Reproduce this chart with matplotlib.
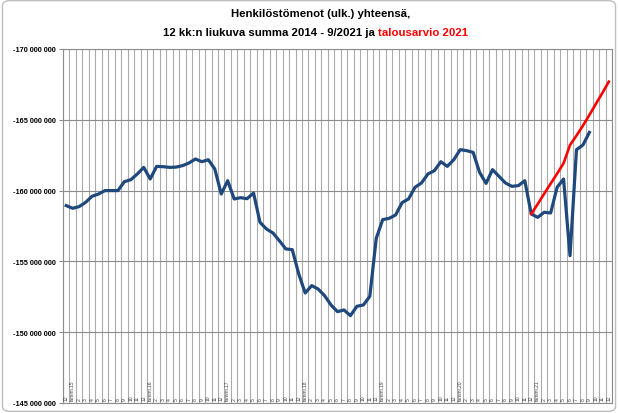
import matplotlib
matplotlib.use("Agg")
import matplotlib.pyplot as plt
from matplotlib.patches import FancyBboxPatch
from matplotlib.ticker import FuncFormatter, FixedLocator

plt.rcParams['font.family'] = ['Liberation Sans', 'DejaVu Sans']

# Category labels: Dec 2014 ... Dec 2021
years = ["15", "16", "17", "18", "19", "20", "21"]
months_rest = ["2", "3", "4", "5", "6", "7", "8", "9", "10", "11", "12"]
categories = ["12"] + [lab for y in years for lab in (["tammi." + y] + months_rest)]

# 12-month rolling sum of personnel expenses (million EUR), Dec 2014 - Sep 2021
actual = [
    -158.94, -158.75, -158.87, -159.17, -159.60, -159.76, -160.00, -160.00, -160.00, -160.63,
    -160.77, -161.17, -161.64, -160.82, -161.71, -161.69, -161.64, -161.66, -161.76, -161.95,
    -162.23, -162.04, -162.18, -161.53, -159.76, -160.70, -159.41, -159.50, -159.43, -159.83,
    -157.76, -157.29, -157.01, -156.46, -155.88, -155.83, -154.11, -152.77, -153.29, -153.05,
    -152.58, -151.92, -151.45, -151.57, -151.17, -151.83, -151.92, -152.53, -156.63, -157.95,
    -158.04, -158.28, -159.15, -159.41, -160.23, -160.54, -161.17, -161.41, -162.04, -161.71,
    -162.18, -162.89, -162.82, -162.70, -161.29, -160.51, -161.48, -161.01, -160.54, -160.30,
    -160.35, -160.70, -158.35, -158.11, -158.47, -158.42, -160.23, -160.82, -155.40, -162.89,
    -163.22, -164.11,
]
# Budget 2021 path (million EUR), Dec 2020 - Dec 2021
budget_start = 72
budget = [-158.35, -159.05, -159.78, -160.49, -161.20, -161.93, -163.22, -163.88,
          -164.59, -165.34, -166.12, -166.89, -167.69]

y_ticks = [-170, -165, -160, -155, -150, -145]

fig = plt.figure(figsize=(6.18, 4.14), dpi=100)
fig.patch.set_facecolor('white')
fig.patches.append(FancyBboxPatch((0.004, 0.004), 0.992, 0.992,
                                  boxstyle="round,pad=0,rounding_size=0.012",
                                  transform=fig.transFigure, fill=False,
                                  ec='#BFBFBF', lw=1.0))

ax = fig.add_axes([63/618, 10/414, 549/618, 354/414])
n = len(categories)
x_act = list(range(len(actual)))
x_bud = list(range(budget_start, budget_start + len(budget)))

ax.plot(x_act, actual, color='#1F497D', lw=2.3, solid_joinstyle='round', zorder=3)
ax.plot(x_bud, budget, color='#FF0000', lw=1.9, zorder=4)

ax.set_xlim(-0.5, n - 0.5)
ax.set_ylim(-145, -170)

ax.yaxis.set_major_locator(FixedLocator(y_ticks))
ax.yaxis.set_major_formatter(FuncFormatter(lambda v, p: f"{v*1e6:,.0f}".replace(",", " ")))
ax.xaxis.set_major_locator(FixedLocator([]))
ax.xaxis.set_minor_locator(FixedLocator([k - 0.5 for k in range(n + 1)]))
ax.grid(True, which='minor', axis='x', color='#ABABAB', lw=0.8, zorder=1)
ax.grid(True, which='major', axis='y', color='#8C8C8C', lw=0.8, zorder=1)
ax.tick_params(axis='x', which='both', length=0)
ax.tick_params(axis='y', which='major', length=3, width=0.8, color='#8C8C8C',
               labelsize=5.3, pad=2)
for lab in ax.get_yticklabels():
    lab.set_fontweight('bold')
for s in ax.spines.values():
    s.set_color('#8C8C8C')
    s.set_linewidth(0.8)

for i, lab in enumerate(categories):
    ax.annotate(lab, xy=(i, -145), xytext=(0, 2), textcoords='offset points',
                rotation=90, ha='center', va='bottom', fontsize=3.6, color='#404040')

fig.text(321/618, 1 - 14/414, "Henkilöstömenot (ulk.) yhteensä,", ha='center', va='center',
         fontsize=8.2, fontweight='bold')
t1 = fig.text(163/618, 1 - 33/414, "12 kk:n liukuva summa 2014 - 9/2021 ja", ha='left',
              va='center', fontsize=8.2, fontweight='bold')
ax.annotate("talousarvio 2021", xy=(1, 0), xycoords=t1, xytext=(2.3, 0),
            textcoords='offset points', ha='left', va='bottom', fontsize=8.2,
            fontweight='bold', color='#FF0000', annotation_clip=False)

fig.savefig("out.png", dpi=100)
